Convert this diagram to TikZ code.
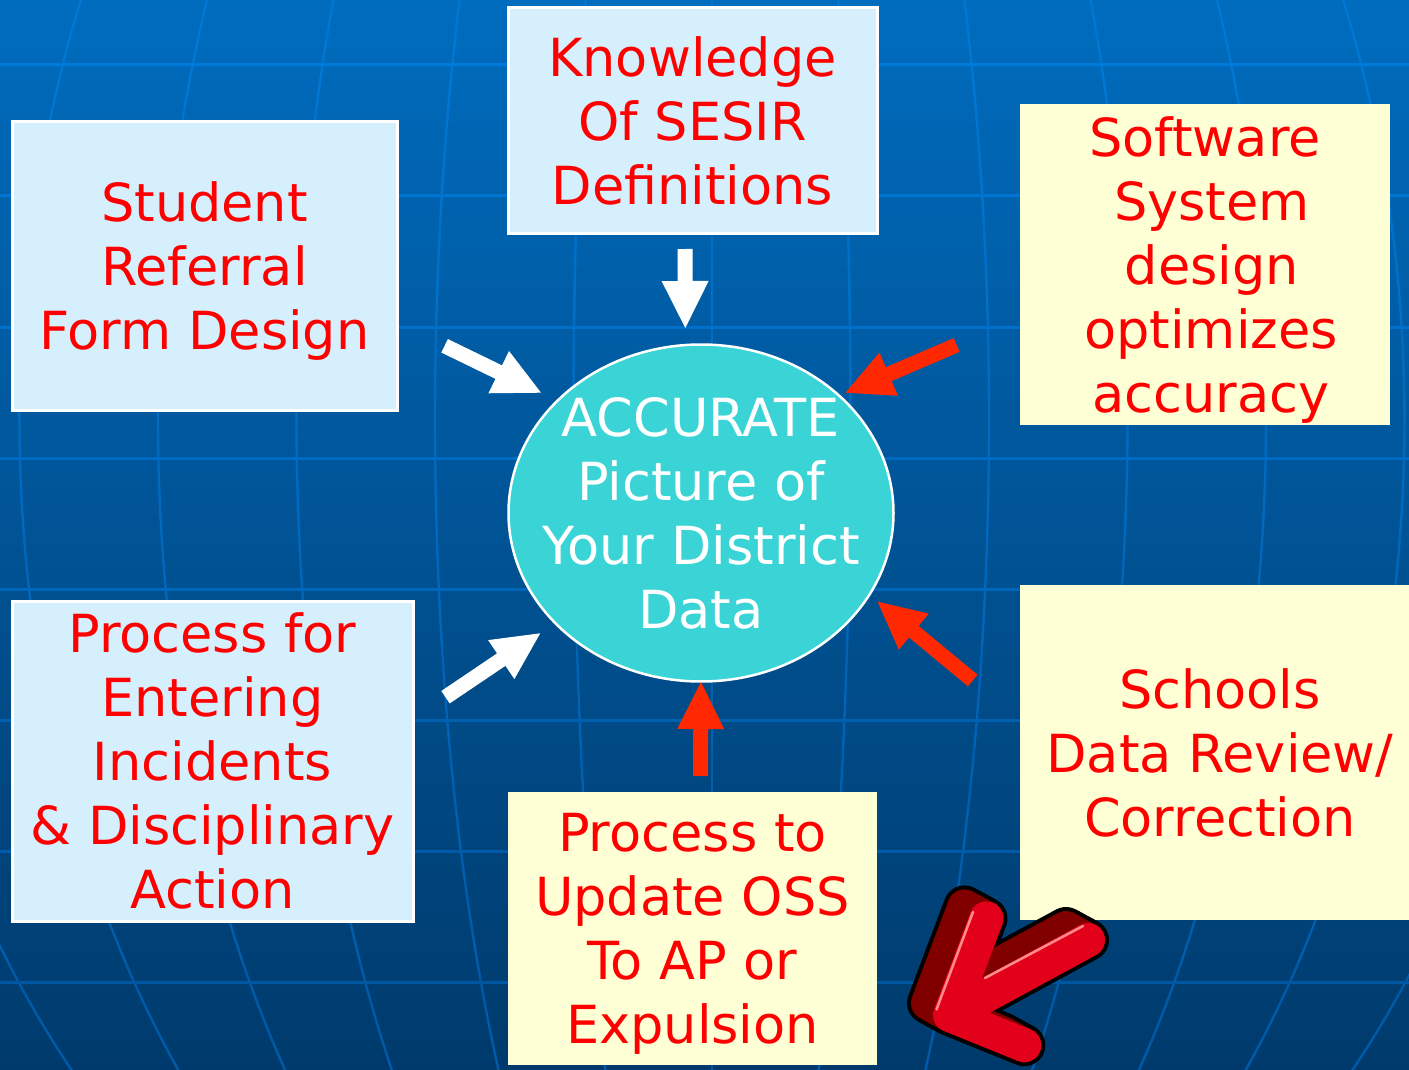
\documentclass[tikz,border=0pt]{standalone}
\usepackage{fontspec}
\setmainfont{DejaVu Sans}
\usetikzlibrary{calc,shapes.geometric}
\definecolor{bgtop}{RGB}{0,108,190}
\definecolor{bgbot}{RGB}{0,58,108}
\definecolor{hltop}{RGB}{0,124,222}
\definecolor{hlbot}{RGB}{0,84,156}
\definecolor{vltop}{RGB}{0,121,214}
\definecolor{vlbot}{RGB}{0,88,164}
\definecolor{lblue}{RGB}{213,240,252}
\definecolor{lyellow}{RGB}{255,255,213}
\definecolor{txtred}{RGB}{255,0,0}
\definecolor{arrred}{RGB}{255,40,0}
\definecolor{turq}{RGB}{58,212,214}
\definecolor{bigred}{RGB}{226,0,26}
\definecolor{darkred}{RGB}{128,0,0}
\definecolor{pinkhl}{RGB}{255,140,140}
\newcommand{\mkblockarrow}[3]{%
  \coordinate (hb) at ($(#2)!47pt!(#1)$);
  \fill[#3] ($(#1)!7.5pt!90:(#2)$) -- ($(hb)!7.5pt!90:(#2)$) -- ($(hb)!23.5pt!90:(#2)$) -- (#2)
    -- ($(hb)!23.5pt!-90:(#2)$) -- ($(hb)!7.5pt!-90:(#2)$) -- ($(#1)!7.5pt!-90:(#2)$) -- cycle;}
\begin{document}
\begin{tikzpicture}[x=1pt,y=-1pt,
  box/.style={rectangle, inner sep=0pt, align=center, text=txtred,
    font=\fontsize{52.5}{64}\selectfont},
  bluebox/.style={box, fill=lblue, draw=white, line width=3pt},
  yellowbox/.style={box, fill=lyellow},
  hub/.style={ellipse, fill=turq, draw=white, line width=2.5pt, inner sep=0pt},
  hubtext/.style={inner sep=0pt, align=center, text=white, font=\fontsize{52.5}{64}\selectfont},
  gridh/.style={line width=3pt},
  gridv/.style={line width=2.4pt, line cap=round},
  bigstroke/.style={line cap=round, line join=round}]
\useasboundingbox (0,0) rectangle (1409,1070);
\begin{scope}
\clip (0,0) rectangle (1409,1070);
% background
\shade[top color=bgtop, bottom color=bgbot] (0,0) rectangle (1409,1070);
% meridian-like grid lines
\foreach \k in {-6,...,6}{
  \foreach \s in {0,...,9}{
    \pgfmathsetmacro\ya{\s*107}
    \pgfmathsetmacro\yb{\s*107+107}
    \pgfmathsetmacro\p{100-(\s+0.5)*10}
    \draw[gridv, vltop!\p!vlbot] plot[domain=\ya:\yb, samples=8, smooth]
      ({712+138.5*\k*sqrt(1-((\x-420)/1020)^2)}, \x);
  }
}
% horizontal grid lines
\foreach \k in {0,...,7}{
  \pgfmathsetmacro\yy{65+131*\k}
  \pgfmathsetmacro\p{100*(1-\yy/1070)}
  \draw[gridh, hltop!\p!hlbot] (0,\yy) -- (1409,\yy);
}
% boxes
\node[bluebox, minimum width=369pt, minimum height=225pt] (know) at (692.5,120.5)
  {Knowledge\\Of SESIR\\Definitions};
\node[bluebox, minimum width=385pt, minimum height=289pt] (student) at (204.5,266)
  {Student\\Referral\\\smash{Form Design}};
\node[yellowbox, minimum width=370pt, minimum height=321pt] (soft) at (1205,264.5)
  {Software\\\hspace*{14pt}System\\\hspace*{14pt}design\\\hspace*{12pt}optimizes\\\hspace*{12pt}\smash{accuracy}};
\node[yellowbox, minimum width=400pt, minimum height=335pt] (schools) at (1220,752.5)
  {Schools\\Data Review/\\Correction};
\node[bluebox, minimum width=401pt, minimum height=320pt] (procfor) at (212.5,761)
  {Process for\\Entering\\Incidents\\\& Disciplinary\\Action};
\node[yellowbox, minimum width=369pt, minimum height=273pt] (procto) at (692.5,928.5)
  {Process to\\Update OSS\\To AP or\\\smash{Expulsion}};
% central ellipse
\node[hub, minimum width=385pt, minimum height=337pt] (hub) at (701,513) {};
\node[hubtext] (hubtext) at (hub.center) {ACCURATE\\Picture of\\Your District\\Data};
% block arrows
\coordinate (a1t) at (685,249);   \coordinate (a1h) at (685.3,328);
\coordinate (a2t) at (444.6,345.8); \coordinate (a2h) at (541,392.7);
\coordinate (a3t) at (445.5,697.2); \coordinate (a3h) at (540.2,633.3);
\coordinate (a4t) at (956.6,345);   \coordinate (a4h) at (845.5,392.7);
\coordinate (a5t) at (972.7,680.5); \coordinate (a5h) at (877.6,601.7);
\coordinate (a6t) at (700.5,776);   \coordinate (a6h) at (701,682);
\mkblockarrow{a1t}{a1h}{white}
\mkblockarrow{a2t}{a2h}{white}
\mkblockarrow{a3t}{a3h}{white}
\mkblockarrow{a4t}{a4h}{arrred}
\mkblockarrow{a5t}{a5h}{arrred}
\mkblockarrow{a6t}{a6h}{arrred}
% big 3D arrow (bottom right)
\foreach \i in {0,...,10}{
  \begin{scope}[shift={(-2.2*\i,-1.2*\i)}]
    \draw[bigstroke, black, line width=42pt] (986.5,918.4) -- (950,1015) -- (1024.3,1045.2) (950,1015) -- (1088,940);
  \end{scope}
}
\foreach \i in {0,...,10}{
  \begin{scope}[shift={(-2.2*\i,-1.2*\i)}]
    \draw[bigstroke, darkred, line width=34pt] (986.5,918.4) -- (950,1015) -- (1024.3,1045.2) (950,1015) -- (1088,940);
  \end{scope}
}
\draw[bigstroke, bigred, line width=34pt] (986.5,918.4) -- (950,1015) -- (1024.3,1045.2) (950,1015) -- (1088,940);
\draw[pinkhl, line width=2.5pt, line cap=round] (973,912) -- (936.5,1009.5);
\draw[pinkhl, line width=2.5pt, line cap=round] (985,978) -- (1083,926);
\end{scope}
\end{tikzpicture}
\end{document}
